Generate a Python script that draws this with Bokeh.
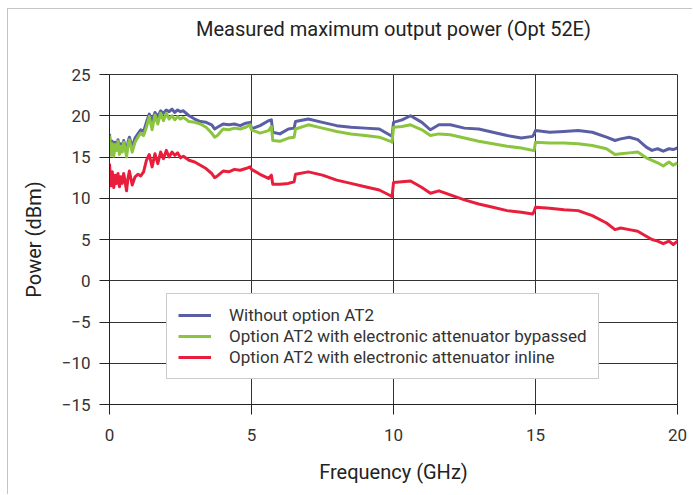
from bokeh.plotting import figure
from bokeh.models import FixedTicker, Legend, LegendItem, Range1d, Title
from bokeh.embed import file_html
from bokeh.resources import INLINE

# ---- data ----
freq_ghz = [0, 0.05, 0.1, 0.15, 0.2, 0.25, 0.3, 0.35, 0.4, 0.45, 0.5, 0.55, 0.6, 0.65, 0.7,
            0.8, 0.9, 1.0, 1.1, 1.2, 1.3, 1.4, 1.5, 1.6, 1.7, 1.8, 1.9, 2.0, 2.1, 2.2, 2.3,
            2.4, 2.5, 2.6, 2.8, 3.0, 3.2, 3.4, 3.6, 3.7, 3.8, 4.0, 4.2, 4.4, 4.6, 4.8, 4.95,
            5.0, 5.3, 5.6, 5.7, 5.75, 6.0, 6.3, 6.5, 6.55, 7.0, 7.5, 8.0, 8.5, 9.0, 9.5, 9.9,
            9.95, 10.0, 10.3, 10.6, 11.0, 11.3, 11.6, 12.0, 12.5, 13.0, 13.5, 14.0, 14.5, 14.9,
            14.95, 15.0, 15.5, 16.0, 16.5, 17.0, 17.5, 17.8, 18.0, 18.3, 18.6, 18.9, 19.1, 19.3,
            19.5, 19.7, 19.85, 20.0]

without_at2 = [17.8, 15.8, 16.9, 15.6, 16.8, 16.2, 17.1, 15.8, 16.6, 16.0, 17.0, 16.3, 15.6, 16.8, 17.4,
               16.2, 17.3, 17.8, 18.3, 18.1, 19.2, 20.2, 19.3, 20.4, 19.9, 20.6, 20.3, 20.7, 20.5, 20.8, 20.4,
               20.7, 20.5, 20.6, 20.0, 19.6, 19.3, 19.2, 18.9, 18.4, 18.6, 19.0, 18.9, 19.0, 18.8, 19.1, 19.2,
               18.4, 18.8, 19.4, 19.5, 18.0, 17.8, 18.4, 18.5, 19.3, 19.6, 19.2, 18.8, 18.6, 18.5, 18.4, 17.6,
               17.5, 19.2, 19.5, 20.0, 19.2, 18.3, 18.9, 18.9, 18.5, 18.4, 18.0, 17.6, 17.3, 17.5,
               17.8, 18.2, 18.0, 18.1, 18.2, 18.0, 17.4, 17.0, 17.2, 17.4, 17.1, 16.2, 15.8, 16.0,
               15.7, 16.0, 15.9, 16.1]

at2_bypassed = [17.6, 15.2, 16.6, 15.1, 16.5, 15.8, 16.9, 15.3, 16.3, 15.6, 16.8, 16.0, 15.0, 16.4, 17.1,
                15.6, 16.8, 17.4, 17.9, 17.6, 18.6, 19.9, 18.3, 20.1, 19.0, 20.3, 19.4, 20.3, 19.6, 20.0, 19.5,
                19.9, 19.6, 19.8, 19.3, 19.2, 19.0, 18.6, 17.9, 17.4, 17.6, 18.4, 18.3, 18.5, 18.4, 18.6, 18.9,
                18.3, 17.9, 18.2, 18.7, 17.0, 16.9, 17.3, 17.4, 18.4, 18.9, 18.5, 18.1, 17.8, 17.6, 17.4, 16.9,
                16.8, 18.6, 18.7, 18.9, 18.3, 17.6, 17.8, 17.7, 17.3, 16.9, 16.6, 16.3, 16.1, 15.8,
                15.8, 16.8, 16.7, 16.7, 16.6, 16.4, 16.0, 15.3, 15.4, 15.5, 15.6, 14.9, 14.6, 14.3,
                13.9, 14.4, 14.0, 14.3]

at2_inline = [14.2, 11.5, 13.2, 11.3, 12.8, 11.8, 13.0, 11.4, 12.6, 11.8, 13.0, 12.0, 10.9, 12.4, 13.3,
              11.6, 12.6, 12.9, 12.7, 13.2, 14.6, 15.3, 13.8, 15.4, 14.2, 15.6, 14.8, 15.8, 15.0, 15.6, 15.2,
              15.5, 14.9, 15.1, 14.6, 14.4, 14.0, 13.6, 13.0, 12.5, 12.7, 13.3, 13.2, 13.5, 13.4, 13.6, 13.8,
              13.5, 12.9, 12.4, 12.8, 11.7, 11.7, 11.8, 12.0, 12.9, 13.2, 12.8, 12.2, 11.8, 11.4, 11.0, 10.3,
              10.2, 11.9, 12.0, 12.1, 11.3, 10.6, 10.9, 10.4, 9.8, 9.3, 8.9, 8.5, 8.3, 8.1,
              8.4, 8.9, 8.8, 8.6, 8.5, 7.9, 7.0, 6.2, 6.4, 6.2, 6.0, 5.4, 5.0, 4.8,
              4.5, 4.8, 4.4, 4.8]

series_labels = ["Without option AT2",
                 "Option AT2 with electronic attenuator bypassed",
                 "Option AT2 with electronic attenuator inline"]
series_colors = ["#5a5fa5", "#8bc53f", "#e81f3c"]
title_text = "Measured maximum output power (Opt 52E)"

x_ticks = [0, 5, 10, 15, 20]
y_ticks = [-15, -10, -5, 0, 5, 10, 15, 20, 25]
y_tick_labels = ["\u221215", "\u221210", "\u22125", "0", "5", "10", "15", "20", "25"]

FONT = "Roboto"

p = figure(width=685, height=486, x_range=Range1d(0, 20), y_range=Range1d(-15, 25),
           output_backend="svg", toolbar_location=None, title=None,
           min_border_left=101, min_border_right=16, min_border_top=65, min_border_bottom=91,
           styles={"margin-left": "7px", "margin-top": "8px",
                   "border-top": "1px solid #c4c4c4", "border-left": "1px solid #c4c4c4"})

# spacer between plot area and title, then the title itself (stacked outward)
p.add_layout(Title(text=" ", text_font_size="1px", standoff=31), "above")
p.add_layout(Title(text=title_text, align="center", standoff=0,
                   text_font=FONT, text_font_size="20px", text_font_style="normal",
                   text_color="#222222"), "above")

p.outline_line_color = "#333333"
p.outline_line_width = 1

for g in (p.xgrid, p.ygrid):
    g.grid_line_color = "#333333"
    g.grid_line_width = 1
p.xgrid.ticker = FixedTicker(ticks=x_ticks)
p.ygrid.ticker = FixedTicker(ticks=y_ticks)

p.xaxis.ticker = FixedTicker(ticks=x_ticks)
p.yaxis.ticker = FixedTicker(ticks=y_ticks)
p.yaxis.major_label_overrides = {t: l for t, l in zip(y_ticks, y_tick_labels)}

for ax in (p.xaxis, p.yaxis):
    ax.axis_line_color = "#222222"
    ax.major_tick_line_color = "#222222"
    ax.major_tick_in = 0
    ax.major_tick_out = 10
    ax.minor_tick_line_color = None
    ax.major_label_text_font = FONT
    ax.major_label_text_font_size = "17px"
    ax.major_label_text_color = "#333333"
    ax.axis_label_text_font = FONT
    ax.axis_label_text_font_size = "20px"
    ax.axis_label_text_font_style = "normal"
    ax.axis_label_text_color = "#222222"

p.xaxis.axis_label = "Frequency (GHz)"
p.yaxis.axis_label = "Power (dBm)"
p.xaxis.major_label_standoff = 14
p.yaxis.major_label_standoff = 9
p.xaxis.axis_label_standoff = 16
p.yaxis.axis_label_standoff = 13

renderers = []
for ys, c in zip([without_at2, at2_bypassed, at2_inline], series_colors):
    r = p.line(freq_ghz, ys, line_color=c, line_width=3, line_join="round")
    renderers.append(r)

legend = Legend(items=[LegendItem(label=l, renderers=[r]) for l, r in zip(series_labels, renderers)],
                location=(57, 25))
legend.margin = 0
legend.padding = 11
legend.spacing = 1
legend.glyph_width = 33
legend.glyph_height = 20
legend.label_height = 20
legend.label_standoff = 18
legend.label_text_font = FONT
legend.label_text_font_size = "17px"
legend.label_text_color = "#333333"
legend.border_line_color = "#9a9a9a"
legend.border_line_width = 1
legend.background_fill_color = "white"
legend.background_fill_alpha = 1.0
p.add_layout(legend)

open("out.html", "w").write(file_html(p, INLINE))
